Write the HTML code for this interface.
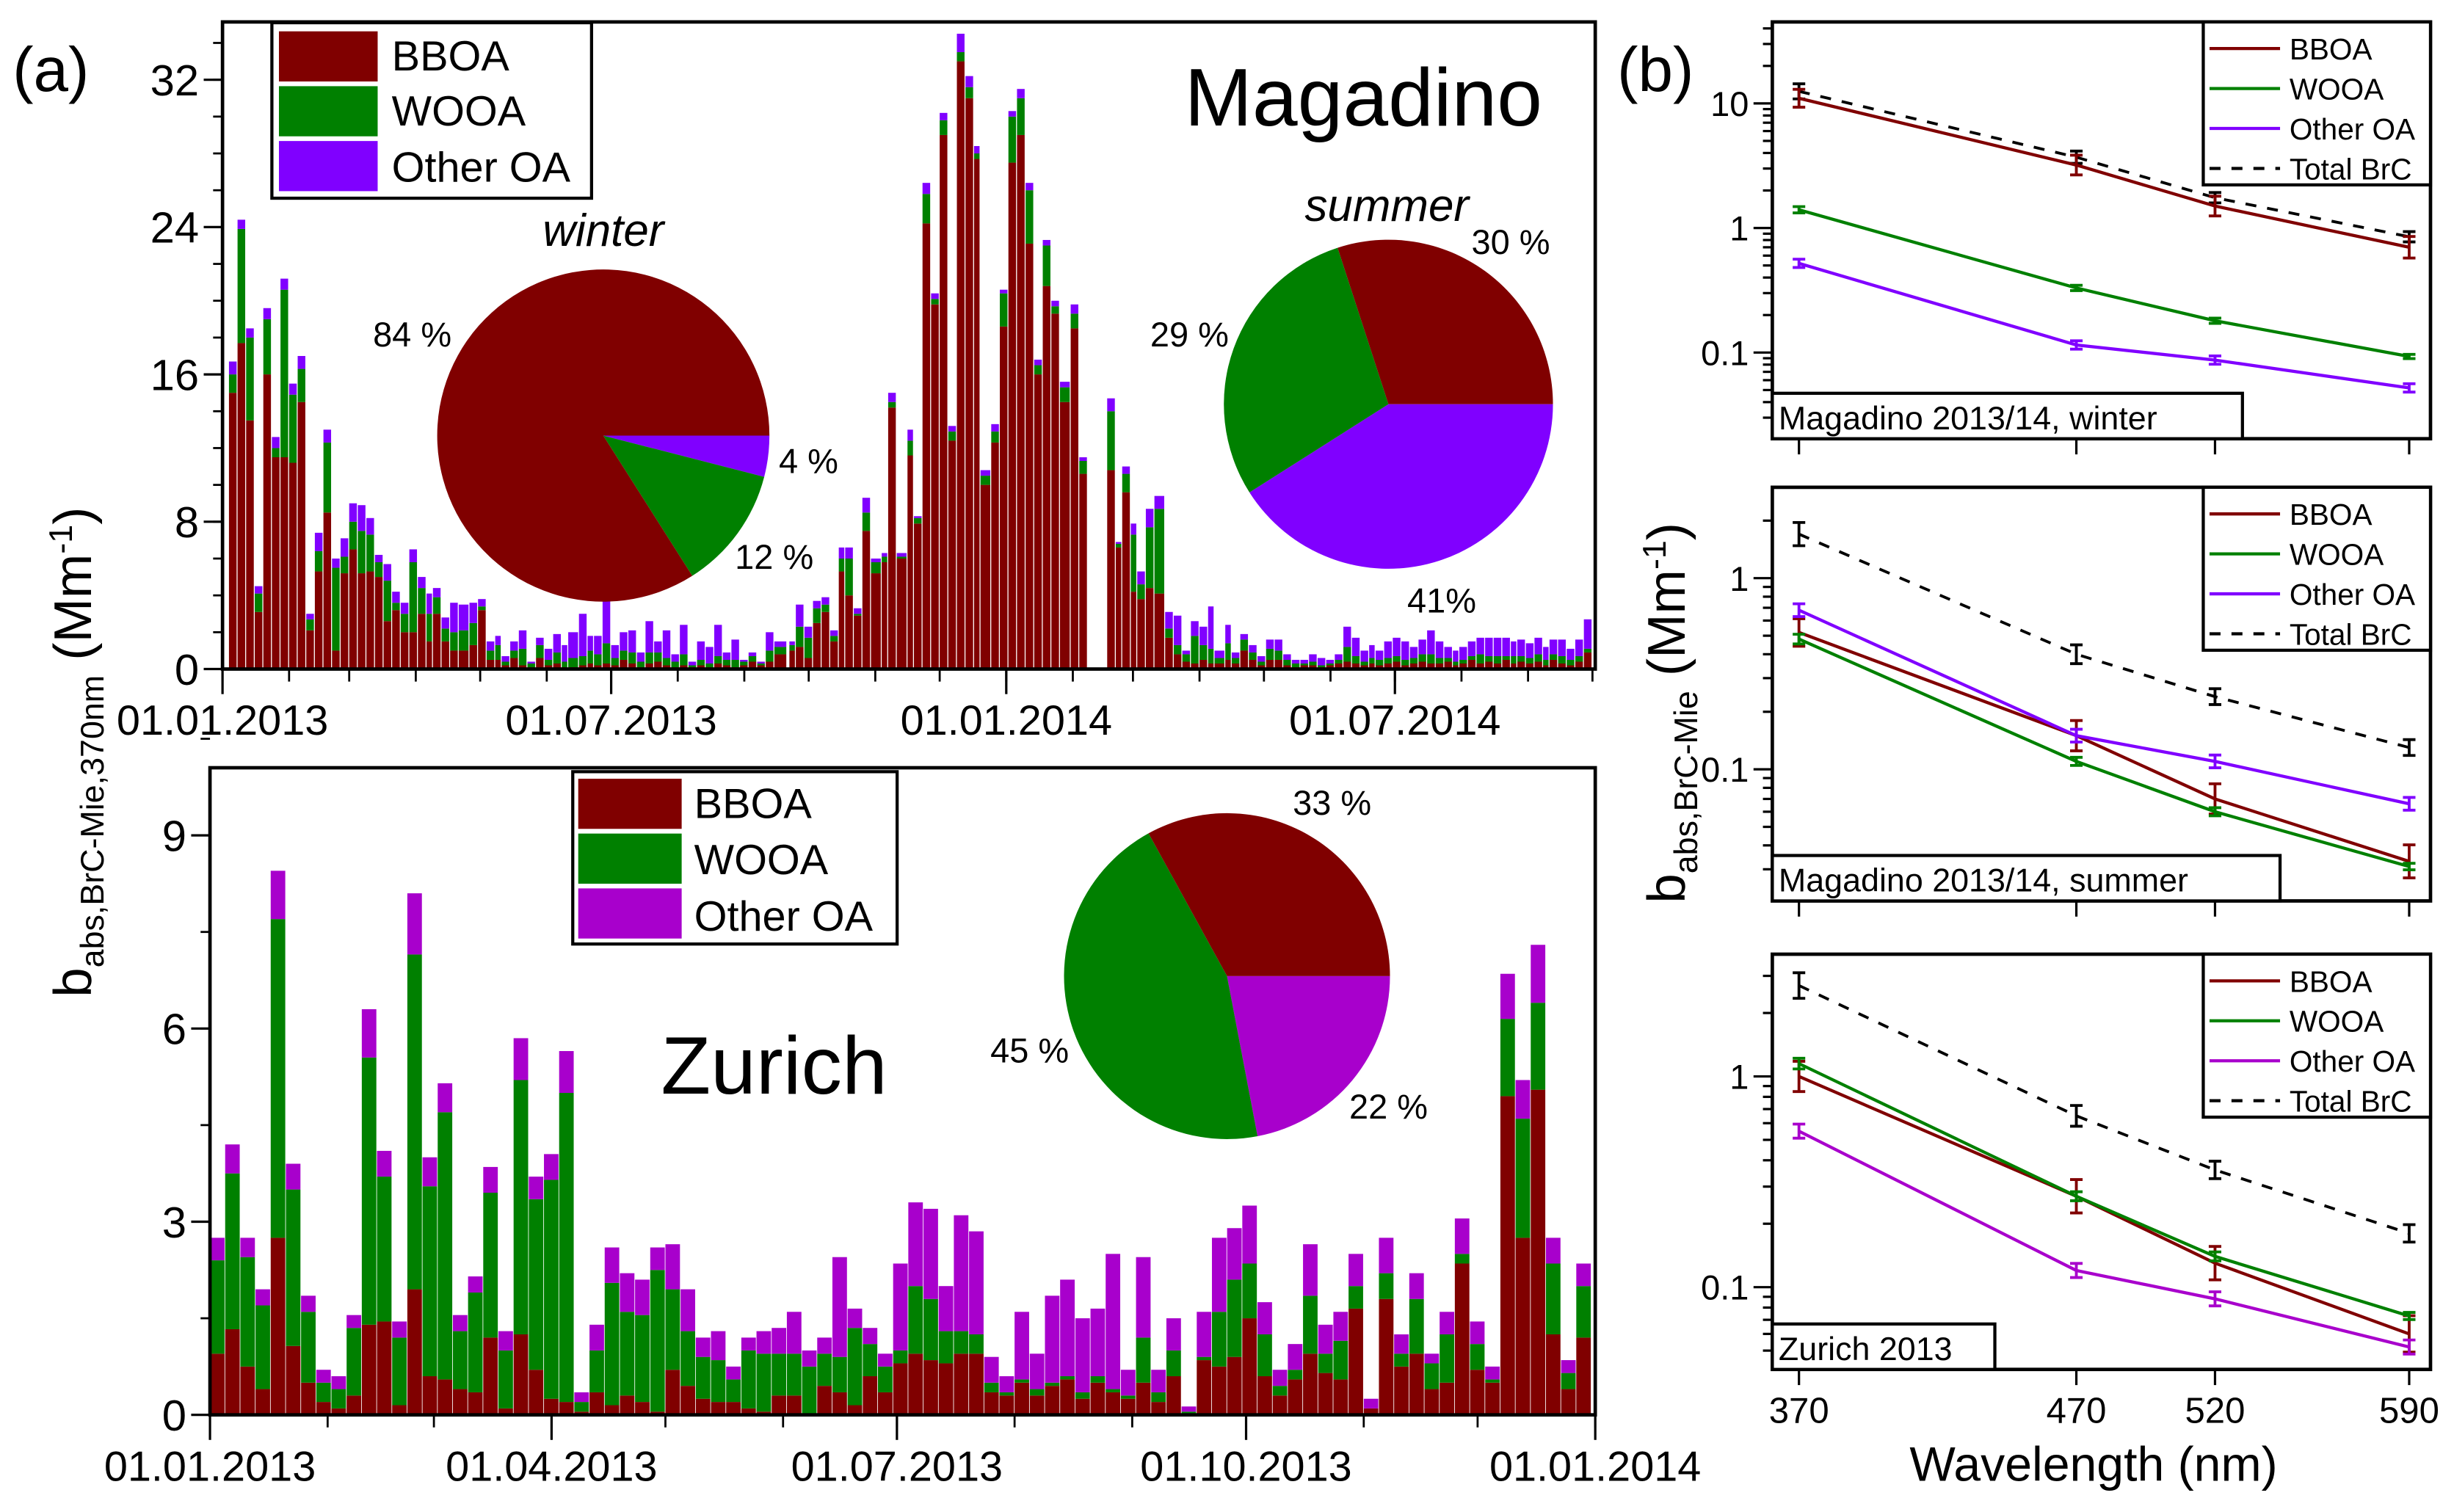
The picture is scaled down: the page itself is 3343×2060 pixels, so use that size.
<!DOCTYPE html>
<html><head><meta charset="utf-8">
<style>
html,body{margin:0;padding:0;background:#fff;}
svg{display:block;}
text{font-family:"Liberation Sans",Arial,sans-serif;fill:#000;}
</style></head>
<body>
<svg id="fig" xmlns="http://www.w3.org/2000/svg" width="3343" height="2060" viewBox="0 0 1566 965" preserveAspectRatio="none">
<rect x="0" y="0" width="1566" height="965" fill="#fff"/>
<g id="pa-bars1"></g>
<g id="pa-bars2"></g>
<g id="pies"></g>
<g id="axes"></g>
<g id="pb"></g>

<text x="8" y="58" font-size="40">(a)</text>
<text x="1032" y="58" font-size="40">(b)</text>
<text x="870" y="80" font-size="52" text-anchor="middle">Magadino</text>
<text x="494" y="698" font-size="52" text-anchor="middle">Zurich</text>

<g>
<rect x="173.5" y="14.5" width="204" height="112" fill="#fff" stroke="#000" stroke-width="2"/>
<rect x="178" y="20" width="63" height="32" fill="#800000"/>
<rect x="178" y="55" width="63" height="32" fill="#008000"/>
<rect x="178" y="90" width="63" height="32" fill="#8000ff"/>
<text x="250" y="45" font-size="27">BBOA</text>
<text x="250" y="80" font-size="27">WOOA</text>
<text x="250" y="116" font-size="27">Other OA</text>
</g>
<g>
<rect x="365.5" y="492.5" width="207" height="110" fill="#fff" stroke="#000" stroke-width="2"/>
<rect x="369" y="497" width="66" height="32" fill="#800000"/>
<rect x="369" y="532" width="66" height="32" fill="#008000"/>
<rect x="369" y="567" width="66" height="32" fill="#a800cc"/>
<text x="443" y="522" font-size="27">BBOA</text>
<text x="443" y="558" font-size="27">WOOA</text>
<text x="443" y="594" font-size="27">Other OA</text>
</g>

<g font-size="22">
<text x="385" y="157" font-size="29" font-style="italic" text-anchor="middle">winter</text>
<text x="885" y="141" font-size="29" font-style="italic" text-anchor="middle">summer</text>
<text x="238" y="221">84 %</text>
<text x="497" y="302">4 %</text>
<text x="469" y="363">12 %</text>
<text x="939" y="162">30 %</text>
<text x="734" y="221">29 %</text>
<text x="898" y="391">41%</text>
<text x="825" y="520">33 %</text>
<text x="632" y="678">45 %</text>
<text x="861" y="714">22 %</text>
</g>

<text transform="translate(58,480) rotate(-90)" text-anchor="middle" font-size="34">b<tspan font-size="21" dy="8">abs,BrC-Mie,370nm</tspan><tspan dy="-8"> (Mm</tspan><tspan font-size="21" dy="-12">-1</tspan><tspan dy="12">)</tspan></text>
<text transform="translate(1075,455) rotate(-90)" text-anchor="middle" font-size="34">b<tspan font-size="21" dy="8">abs,BrC-Mie</tspan><tspan dy="-8"> (Mm</tspan><tspan font-size="21" dy="-12">-1</tspan><tspan dy="12">)</tspan></text>
<text x="1336" y="945" font-size="31" text-anchor="middle">Wavelength (nm)</text>
</svg>

<script>
// ---------- Magadino data (day offset from 01.01.2013) ----------
const mDay=[3,7,11,15,19,23,27,31,35,39,43,47,51,55,59,63,67,71,75,79,83,87,91,95,98,102,106,110,115,119,123,127,130,134,138,142,146,150,154,158,161,166,170,173,177,181,185,189,193,197,201,205,209,213,217,221,225,229,233,237,241,245,249,253,257,264,267,271,275,279,283,287,290,294,298,302,307,310,314,319,322,326,330,334,338,342,346,350,353,358,362,366,370,374,378,382,386,390,395,399,403,406,412,416,419,423,426,430,434,439,443,447,451,455,459,462,467,470,474,478,482,486,490,494,498,502,506,510,514,518,522,526,530,534,537,541,545,549,553,557,561,565,569,573,576,580,584,588,592,596,600,603,607,611,615,618,622,626,630,634];
const mBBOA=[15,17.7,13.5,3.1,16,11.5,11.5,11.2,14.5,2.1,5.3,8.5,1,5.2,6.5,5.2,5.3,5,2.6,3.2,2,2,3,1.5,3,1.5,1,1,1.3,3.2,0.5,0.5,0.2,0.6,0.2,0.1,0.6,0.2,0.3,0.1,0.1,0.2,0.3,0.2,0.3,0.2,0.5,0.3,0.1,0.3,0.4,0.2,0.1,0.2,0.1,0.2,0.1,0.3,0.2,0.1,0.2,0.4,0.2,0.4,0.8,1.0,1.2,0.6,2.5,3.1,1.5,5.3,4,2.9,7.5,5.2,5.8,14.2,6.0,11.6,7.9,24.2,19.8,29,12.4,33,31,27.7,10,12.3,18.6,27.5,29,23.1,16,20.8,19.3,14.5,18.5,10.6,0,0,10.8,6.6,9.6,4.2,3.8,4.4,4.1,1.7,0.8,0.4,0.3,0.5,0.3,0.3,0.5,0.3,1.0,0.5,0.2,0.5,0.5,0.2,0.1,0.2,0.2,0.1,0.2,0.3,0.4,0.3,0.2,0.3,0.2,0.3,0.4,0.2,0.3,0.4,0.3,0.3,0.4,0.2,0.3,0.5,0.3,0.4,0.3,0.5,0.3,0.4,0.3,0.4,0.2,0.5,0.3,0.2,0.4,0.9];
const mWOOA=[1,6.2,4.5,1.0,3,0.5,9.1,3.7,1.8,0.6,1.1,3.8,4.5,0.9,1.5,2.3,2,0.8,2.2,0.4,1,3.8,1.4,1.5,0.9,0.7,1,1.1,1.2,0.2,0.5,0.8,0.2,0.4,0.9,0.2,0.7,0.3,0.6,0.3,0.5,0.5,0.7,0.6,1.1,0.4,0.5,0.6,0.3,0.6,0.5,0.4,0.3,0.6,0.1,0.3,0.2,0.4,0.3,0.4,0.2,0.3,0.1,0.6,0.4,0.3,1.1,1.1,0.8,0.4,0.3,0.7,2,0.1,1.0,0.6,0.3,0.3,0.1,0.8,0.3,1.6,0.3,0.8,0.5,0.5,0.6,0.3,0.5,0.6,1.8,2.5,2,2.9,0.5,2.2,0.4,0.8,0.8,0.7,0,0,3.2,0.2,1,3.1,0.8,3.3,4.6,0.5,0.5,0.4,1.5,0.8,0.8,0.3,0.9,0.3,0.6,0.4,0.2,0.6,0.5,0.3,0.2,0.1,0.2,0.1,0.1,0.2,0.8,0.4,0.2,0.3,0.3,0.3,0.3,0.3,0.3,0.4,0.5,0.3,0.2,0.2,0.2,0.2,0.5,0.3,0.4,0.2,0.4,0.3,0.3,0.4,0.3,0.3,0.4,0.3,0.3,0.2];
const mOther=[0.7,0.5,0.5,0.4,0.6,0.6,0.6,0.6,0.7,0.3,1.0,0.7,0.5,1.0,1.0,1.4,0.9,0.4,0.9,0.6,0.6,0.7,0.6,1.1,0.5,0.6,1.6,1.4,1.1,0.4,0.5,0.5,0.3,0.5,1.0,0.1,0.4,0.6,1.0,0.9,1.4,2.3,0.8,1.0,2.3,0.7,1.0,1.2,0.5,1.7,0.6,1.5,0.4,1.6,0.2,1.0,0.9,1.7,0.4,1.1,0.1,0.2,0.1,1.0,0.3,0.2,1.2,0.6,0.4,0.4,0.3,0.6,0.6,0.3,0.8,0.2,0.2,0.5,0.2,0.6,0.1,0.6,0.3,0.4,0.3,1.0,0.6,0.4,0.3,0.4,0.2,0.3,0.5,0.4,0.3,0.3,0.3,0.3,0.5,0.2,0,0,0.7,0.1,0.4,0.6,0.7,1.0,0.7,0.9,1.6,0.2,0.8,1.0,2.3,0.4,1.0,0.3,0.3,0.4,0.3,0.5,0.6,0.3,0.2,0.2,0.4,0.4,0.2,0.3,1.1,1.0,0.6,0.7,0.5,0.9,1.0,1.0,0.6,0.8,1.3,0.9,0.6,0.6,0.7,0.8,0.9,1.0,1.0,1.0,0.8,0.9,0.8,0.9,0.7,0.8,0.9,0.6,0.9,1.6];
const mTickVals=[0,8,16,24,32];
const mDateLabels=["01.01.2013","01.07.2013","01.01.2014","01.07.2014"];
const mDateDays=[0,181,365,546];

// ---------- Zurich data (4-day bins) ----------
const zDay=[0,4,8,12,16,20,24,28,32,36,40,44,48,52,56,60,64,68,72,76,80,84,88,92,96,100,104,108,112,116,120,124,128,132,136,140,144,148,152,156,160,164,168,172,176,180,184,188,192,196,200,204,208,212,216,220,224,228,232,236,240,244,248,252,256,260,264,268,272,276,280,284,288,292,296,300,304,308,312,316,320,324,328,332,336,340,344,348,352,356,360];
const zBBOA=[0.95,1.33,0.75,0.4,2.75,1.07,0.5,0.2,0.1,0.3,1.4,1.45,0.15,1.95,0.6,0.55,0.4,0.35,1.2,0.1,1.25,0.7,0.25,0.2,0.05,0.35,0.15,0.3,0.2,0.05,0.7,0.45,0.25,0.2,0.2,0.1,0.05,0.3,0.3,0.02,0.45,0.35,0.15,0.6,0.35,0.8,0.95,0.85,0.8,0.95,0.95,0.35,0.3,0.5,0.3,0.45,0.55,0.25,0.5,0.35,0.25,0.5,0.2,0.6,0.02,0.85,0.75,0.9,1.5,0.6,0.3,0.55,0.95,0.65,0.55,1.65,0.1,1.8,0.75,0.95,0.4,0.5,2.35,0.7,0.5,4.95,2.75,5.05,1.25,0.4,1.2];
const zWOOA=[1.45,2.42,1.7,1.3,4.95,2.43,1.1,0.3,0.3,1.05,4.15,2.25,1.05,5.2,2.95,4.15,0.9,1.55,2.25,0.9,3.95,2.65,3.4,4.8,0.15,0.65,1.9,1.3,1.35,2.2,1.25,0.85,0.65,0.65,0.35,0.9,0.9,0.65,0.65,0.73,0.5,0.55,1.2,0.5,0.4,0.2,1.05,0.95,0.5,0.35,0.3,0.15,0.05,0.05,0.1,0.05,0.05,0.1,0.1,0.05,0.05,0.7,0.15,0.4,0.03,0.05,0.85,1.2,0.85,0.65,0.15,0.15,0.9,0.3,0.6,0.35,0,0.4,0.2,0.85,0.4,0.75,0.15,0.4,0.05,1.2,1.85,1.35,1.1,0.25,0.8];
const zOther=[0.35,0.45,0.3,0.25,0.75,0.4,0.25,0.2,0.2,0.2,0.75,0.4,0.25,0.95,0.45,0.45,0.25,0.25,0.4,0.3,0.65,0.35,0.4,0.65,0.15,0.4,0.55,0.6,0.55,0.35,0.7,0.65,0.3,0.45,0.2,0.2,0.35,0.4,0.65,0.25,0.25,1.55,0.3,0.25,0.2,1.35,1.3,1.4,0.7,1.8,1.6,0.4,0.25,1.05,0.55,1.35,1.5,1.15,1.05,2.1,0.4,1.25,0.35,0.5,0.08,0.7,1.15,0.8,0.9,0.5,0.25,0.4,0.8,0.45,0.45,0.5,0.15,0.55,0.3,0.4,0.15,0.35,0.55,0.35,0.2,0.7,0.6,0.9,0.4,0.2,0.35];
const zTickVals=[0,3,6,9];
const zDateLabels=["01.01.2013","01.04.2013","01.07.2013","01.10.2013","01.01.2014"];
const zDateDays=[0,90,181,273,365];

// ---------- Pie data ----------
const pieWinter=[84,12,4];   // BBOA, WOOA, Other
const pieSummer=[30,29,41];
const pieZurich=[33,45,22];

// ---------- Panel (b) data ----------
const wl=[370,470,520,590];
const wTicks=[370,470,520,590];
const b1BBOA=[11,3.2,1.5,0.7], b1WOOA=[1.4,0.33,0.18,0.093], b1Other=[0.52,0.115,0.087,0.052], b1Total=[12.5,3.7,1.75,0.85];
const b2BBOA=[0.52,0.15,0.07,0.033], b2WOOA=[0.48,0.11,0.06,0.031], b2Other=[0.68,0.15,0.11,0.066], b2Total=[1.7,0.4,0.24,0.13];
const b3BBOA=[1.0,0.27,0.13,0.06], b3WOOA=[1.15,0.27,0.14,0.073], b3Other=[0.55,0.12,0.088,0.052], b3Total=[2.7,0.65,0.36,0.18];
const errBBOA=[0.18,0.2,0.2,0.22], errWOOA=[0.06,0.05,0.05,0.04], errOther=[0.08,0.08,0.08,0.08], errTotal=[0.15,0.12,0.1,0.1];

const NS='http://www.w3.org/2000/svg';
function mk(tag,attrs,parent){const e=document.createElementNS(NS,tag);for(const k in attrs)e.setAttribute(k,attrs[k]);parent.appendChild(e);return e;}
const axes=document.getElementById('axes');

// ---------- Magadino bars ----------
const M={x0:142,x1:1018,y0:427,y1:14,d0:0,d1:639.3,v1:35.14};
const mx=d=>M.x0+(d-M.d0)/(M.d1-M.d0)*(M.x1-M.x0);
const my=v=>M.y0-v/M.v1*(M.y0-M.y1);
const g1=document.getElementById('pa-bars1');
for(let i=0;i<mDay.length;i++){
  const nd=i<mDay.length-1?mDay[i+1]:mDay[i]+4;
  const w=Math.max(1,mx(Math.min(nd,mDay[i]+6))-mx(mDay[i])-0.6);
  const x=mx(mDay[i]);
  const vals=[mBBOA[i],mWOOA[i],mOther[i]],cols=['#800000','#008000','#8000ff'],names=['bar-bboa','bar-wooa','bar-other'];
  let base=0;
  for(let k=0;k<3;k++){
    const r=mk('rect',{x:x,y:my(base+vals[k]),width:w,height:Math.max(0,my(base)-my(base+vals[k])),fill:cols[k]},g1);
    
    
    base+=vals[k];
  }
}
// ---------- Zurich bars ----------
const Z={x0:134,x1:1018,y0:903,y1:490,d1:365,v1:10.05};
const zx=d=>Z.x0+d/Z.d1*(Z.x1-Z.x0);
const zy=v=>Z.y0-v/Z.v1*(Z.y0-Z.y1);
const g2=document.getElementById('pa-bars2');
for(let i=0;i<zDay.length;i++){
  const x=zx(zDay[i]),w=zx(zDay[i]+4)-x-0.4;
  const vals=[zBBOA[i],zWOOA[i],zOther[i]],cols=['#800000','#008000','#a800cc'],names=['bar-bboa','bar-wooa','bar-other'];
  let base=0;
  for(let k=0;k<3;k++){
    const r=mk('rect',{x:x,y:zy(base+vals[k]),width:w,height:Math.max(0,zy(base)-zy(base+vals[k])),fill:cols[k]},g2);
    
    
    base+=vals[k];
  }
}
// ---------- axes for (a) ----------
function boxAxes(B,yf,ticks,minorStep,vmax,xf,dDays,dLabels,monthEnd){
  const fr=mk('rect',{x:B.x0,y:B.y1,width:B.x1-B.x0,height:B.y0-B.y1,fill:'none',stroke:'#000','stroke-width':2.2},axes);
  
  
  for(let v=0;v<=vmax+1e-9;v+=minorStep){
    mk('line',{x1:B.x0-6,x2:B.x0,y1:yf(v),y2:yf(v),stroke:'#000','stroke-width':1.3},axes);
  }
  ticks.forEach(v=>{
    mk('line',{x1:B.x0-12,x2:B.x0,y1:yf(v),y2:yf(v),stroke:'#000','stroke-width':1.5},axes);
    const t=mk('text',{x:B.x0-15,y:yf(v)+10,'font-size':28,'text-anchor':'end'},axes);t.textContent=v;
    
    
  });
  for(let m=0;;m++){
    const d=Math.round((Date.UTC(2013,m,1)-Date.UTC(2013,0,1))/864e5);
    if(d>monthEnd)break;
    mk('line',{x1:xf(d),x2:xf(d),y1:B.y0,y2:B.y0+8,stroke:'#000','stroke-width':1.3},axes);
  }
  dDays.forEach((d,i)=>{
    mk('line',{x1:xf(d),x2:xf(d),y1:B.y0,y2:B.y0+16,stroke:'#000','stroke-width':1.5},axes);
    const t=mk('text',{x:xf(d),y:B.y0+42,'font-size':27,'text-anchor':'middle'},axes);t.textContent=dLabels[i];
    
    
  });
}
boxAxes(M,my,mTickVals,2,34,mx,mDateDays,mDateLabels,639);
boxAxes(Z,zy,zTickVals,1.5,10.5,zx,zDateDays,zDateLabels,365);

// ---------- pies ----------
const pies=document.getElementById('pies');
function pie(cx,cy,r,vals,startDeg,cols,name){
  const order=[0,2,1];let a=startDeg;
  order.forEach(k=>{
    const sweep=vals[k]/100*360;const a0=a*Math.PI/180,a1=(a+sweep)*Math.PI/180;
    const p=mk('path',{d:`M${cx},${cy} L${cx+r*Math.cos(a0)},${cy+r*Math.sin(a0)} A${r},${r} 0 ${sweep>180?1:0} 1 ${cx+r*Math.cos(a1)},${cy+r*Math.sin(a1)} Z`,fill:cols[k]},pies);
    
    
    a+=sweep;
  });
}
pie(385,278,106,pieWinter,-pieWinter[0]/100*360,['#800000','#008000','#8000ff'],'winter-pie');
pie(886,258,105,pieSummer,-pieSummer[0]/100*360,['#800000','#008000','#8000ff'],'summer-pie');
pie(783,623,104,pieZurich,-pieZurich[0]/100*360,['#800000','#008000','#a800cc'],'zurich-pie');

// ---------- panel (b) ----------
const pb=document.getElementById('pb');
const wx=w=>1148+(w-370)*1.77;
function panel(top,bot,yOne,pxDec,data,label,labelW,otherCol){
  const ly=v=>yOne-Math.log10(v)*pxDec;
  const fr=mk('rect',{x:1131,y:top,width:420,height:bot-top,fill:'none',stroke:'#000','stroke-width':2.2},axes);
  
  
  for(let e=-2;e<=1;e++){for(let m=1;m<10;m++){const v=m*Math.pow(10,e);const y=ly(v);if(y<top||y>bot)continue;
    mk('line',{x1:m===1?1119:1125,x2:1131,y1:y,y2:y,stroke:'#000','stroke-width':1.5},axes);
    if(m===1){const t=mk('text',{x:1116,y:y+8,'font-size':22,'text-anchor':'end'},axes);t.textContent=e>=0?String(Math.round(v)):v.toFixed(-e);
      
      }
  }}
  wTicks.forEach(w=>{mk('line',{x1:wx(w),x2:wx(w),y1:bot,y2:bot+10,stroke:'#000','stroke-width':1.5},axes);});
  const series=[[data[3],'#000',errTotal,true,'line-total'],[data[0],'#800000',errBBOA,false,'line-bboa'],[data[1],'#008000',errWOOA,false,'line-wooa'],[data[2],otherCol,errOther,false,'line-other']];
  series.forEach(s=>{
    const pts=wl.map((w,i)=>wx(w)+','+ly(s[0][i])).join(' ');
    const pl=mk('polyline',{points:pts,fill:'none',stroke:s[1],'stroke-width':s[3]?1.8:2,'stroke-dasharray':s[3]?'7,7':'none'},pb);
    
    
    wl.forEach((w,i)=>{const v=s[0][i],e=s[2][i];const y1=ly(v*(1+e)),y2=ly(v/(1+e));const x=wx(w);
      const eb=mk('path',{d:`M${x},${y1}V${y2}M${x-4},${y1}H${x+4}M${x-4},${y2}H${x+4}`,stroke:s[1],'stroke-width':1.8,fill:'none'},pb);
      
      });
  });
  const lg=mk('g',{},pb);
  
  
  mk('rect',{x:1406,y:top,width:145,height:104,fill:'#fff',stroke:'#000','stroke-width':2},lg);
  const names=['BBOA','WOOA','Other OA','Total BrC'],cols=['#800000','#008000',otherCol,'#000'];
  names.forEach((n,i)=>{const y=top+17+i*25.5;
    mk('line',{x1:1410,x2:1455,y1:y,y2:y,stroke:cols[i],'stroke-width':2,'stroke-dasharray':i===3?'7,7':'none'},lg);
    const t=mk('text',{x:1461,y:y+7,'font-size':19},lg);t.textContent=n;
    
    });
  const lb=mk('g',{},pb);
  
  
  mk('rect',{x:1131,y:bot-29,width:labelW,height:29,fill:'#fff',stroke:'#000','stroke-width':2},lb);
  const t=mk('text',{x:1135,y:bot-6,'font-size':21},lb);t.textContent=label;
}
panel(14,280,145.5,79.5,[b1BBOA,b1WOOA,b1Other,b1Total],'Magadino 2013/14, winter',300,'#8000ff');
panel(311,575,369,122,[b2BBOA,b2WOOA,b2Other,b2Total],'Magadino 2013/14, summer',324,'#8000ff');
panel(609,874,687,134.5,[b3BBOA,b3WOOA,b3Other,b3Total],'Zurich 2013',142,'#a800cc');
wTicks.forEach(w=>{const t=mk('text',{x:wx(w),y:908,'font-size':23,'text-anchor':'middle'},axes);t.textContent=w;
  
  });
</script>
</body></html>
